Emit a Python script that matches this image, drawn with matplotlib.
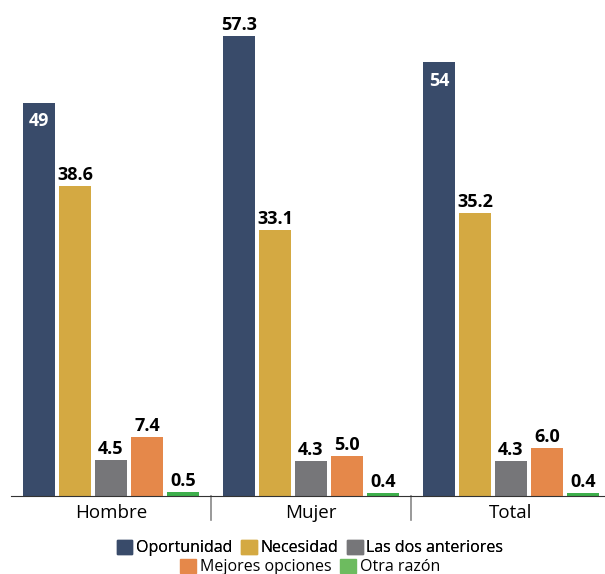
import numpy as np
import matplotlib.pyplot as plt
from matplotlib.patches import Patch

plt.rcParams['font.family'] = ['Open Sans', 'DejaVu Sans']

grupos = ['Hombre', 'Mujer', 'Total']
series = ['Oportunidad', 'Necesidad', 'Las dos anteriores', 'Mejores opciones', 'Otra razón']
oportunidad = [49, 57.3, 54]
necesidad = [38.6, 33.1, 35.2]
las_dos = [4.5, 4.3, 4.3]
mejores = [7.4, 5.0, 6.0]
otra = [0.5, 0.4, 0.4]
etiquetas = [['49', '57.3', '54'], ['38.6', '33.1', '35.2'], ['4.5', '4.3', '4.3'],
             ['7.4', '5.0', '6.0'], ['0.5', '0.4', '0.4']]
colores = ['#394B6A', '#D4A942', '#767679', '#E5884A', '#3DAF4B']

W, H = 605, 574
fig = plt.figure(figsize=(W / 100, H / 100), dpi=100)
# ejes: x de 11 a 611 px, y de 0 a 496 px
ax = fig.add_axes([11 / W, (H - 496) / H, 600 / W, 496 / H])

valores = [oportunidad, necesidad, las_dos, mejores, otra]
x = np.arange(len(grupos))
ancho = 0.16
paso = 0.18
for i, vals in enumerate(valores):
    pos = x + (i - 2) * paso
    ax.bar(pos, vals, width=ancho, color=colores[i], label=series[i])
    for j, v in enumerate(vals):
        txt = etiquetas[i][j]
        if i == 0 and j != 1:
            ax.text(pos[j], v - 1.2, txt, ha='center', va='top', color='white',
                    fontsize=13, fontweight='bold')
        else:
            ax.text(pos[j], v + 0.25, txt, ha='center', va='bottom', color='black',
                    fontsize=13, fontweight='bold')

ax.set_xlim(-0.5, 2.5)
ax.set_ylim(0, 496 / 8.03)
for s in ['top', 'right', 'left']:
    ax.spines[s].set_visible(False)
ax.spines['bottom'].set_color('#333333')
ax.set_yticks([])
ax.set_xticks(x)
ax.set_xticklabels(grupos, fontsize=13.5)
ax.tick_params(axis='x', length=0, pad=6)
# separadores de grupo
for sep in [0.5, 1.5]:
    ax.plot([sep, sep], [0, -3.0], color='#888888', lw=1.2, clip_on=False)

h1 = [Patch(color=colores[k]) for k in range(3)]
h2 = [Patch(color=colores[3]), Patch(color='#6DBB5F')]
leg1 = fig.legend(h1, series[:3], loc='center', bbox_to_anchor=(310 / W, 1 - 548 / H),
                  ncol=3, frameon=False, fontsize=11.5, handlelength=1.0, handleheight=1.0,
                  handletextpad=0.25, columnspacing=0.5, borderpad=0)
leg2 = fig.legend(h2, series[3:], loc='center', bbox_to_anchor=(310 / W, 1 - 567 / H),
                  ncol=2, frameon=False, fontsize=11.5, handlelength=1.0, handleheight=1.0,
                  handletextpad=0.25, columnspacing=0.5, borderpad=0)
fig.add_artist(leg1)

fig.savefig('out.png', dpi=100)
